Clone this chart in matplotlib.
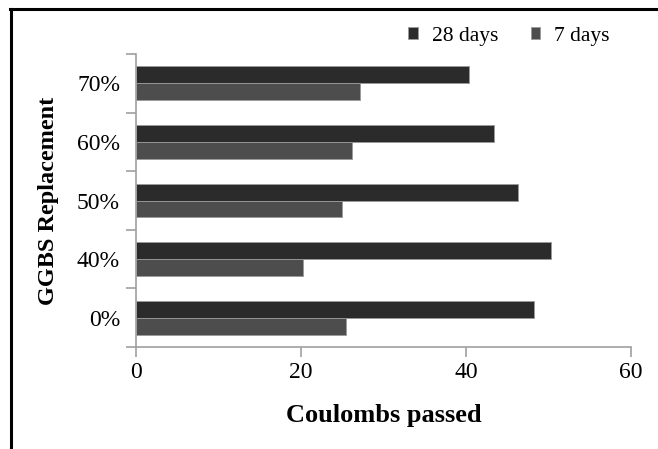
import numpy as np
import matplotlib.pyplot as plt
from matplotlib.lines import Line2D

# Data
categories = ['0%', '40%', '50%', '60%', '70%']
days28 = [48.3, 50.3, 46.3, 43.4, 40.4]
days7 = [25.5, 20.3, 25.0, 26.2, 27.2]

plt.rcParams['font.family'] = ['Liberation Serif', 'DejaVu Serif']

fig = plt.figure(figsize=(6.58, 4.49), dpi=100)
ax = fig.add_axes([136/658, 1 - 347/449, (631 - 136)/658, (347 - 54)/449])

y = np.arange(len(categories))
h = 0.29
ax.barh(y + h/2, days28, height=h, color='#2b2b2b', edgecolor='#9a9a9a', linewidth=0.6, label='28 days')
ax.barh(y - h/2, days7, height=h, color='#4d4d4d', edgecolor='#9a9a9a', linewidth=0.6, label='7 days')

ax.set_xlim(0, 60)
ax.set_ylim(-0.5, len(categories) - 0.5)
ax.set_xticks([0, 20, 40, 60])
ax.set_yticks(y)
ax.set_yticklabels(categories)
# category boundary ticks on the y axis
ax.set_yticks(np.arange(len(categories) + 1) - 0.5, minor=True)
ax.tick_params(axis='y', which='major', length=0, pad=11.5, labelsize=17)
ax.tick_params(axis='y', which='minor', length=7, color='#a0a0a0', width=1.2)
ax.tick_params(axis='x', length=7, color='#a0a0a0', width=1.2, labelsize=17, pad=4)

for s in ['top', 'right']:
    ax.spines[s].set_visible(False)
for s in ['left', 'bottom']:
    ax.spines[s].set_color('#a0a0a0')
    ax.spines[s].set_linewidth(1.2)

ax.set_xlabel('Coulombs passed', fontsize=19, fontweight='bold', labelpad=15)
ax.set_ylabel('GGBS Replacement', fontsize=17.5, fontweight='bold', labelpad=13)

handles, labels = ax.get_legend_handles_labels()
fig.legend(handles, labels, loc='center', bbox_to_anchor=(509/658, 1 - 36/449), ncol=2,
           frameon=False, fontsize=15.5, handlelength=0.45, handleheight=0.45,
           handletextpad=0.65, columnspacing=1.5)

# outer frame (top and left edges only)
fig.add_artist(Line2D([10/658, 1], [1 - 8.5/449, 1 - 8.5/449], color='black', linewidth=2.2, transform=fig.transFigure))
fig.add_artist(Line2D([10.5/658, 10.5/658], [0, 1 - 8.5/449], color='black', linewidth=2.2, transform=fig.transFigure))

fig.savefig('out.png', dpi=100)
